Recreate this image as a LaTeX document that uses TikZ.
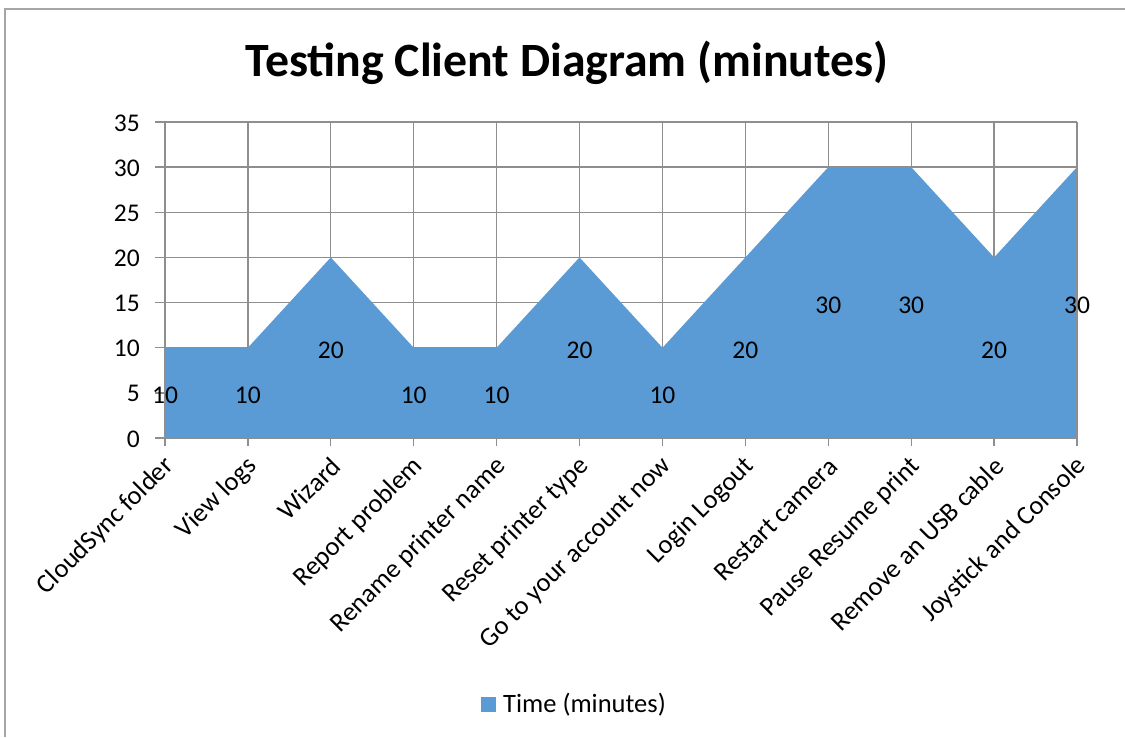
\documentclass[tikz,border=0pt]{standalone}
\usepackage{fontspec}
\setmainfont{Carlito}
\definecolor{areablue}{HTML}{5B9BD5}
\definecolor{gridgray}{HTML}{8E8E8E}
\definecolor{framegray}{HTML}{A6A6A6}
\begin{document}
\begin{tikzpicture}[x=1pt,y=-1pt,
  gridline/.style={draw=gridgray,line width=1.3pt},
  axisline/.style={draw=gridgray,line width=1.3pt},
  ticklabel/.style={font=\fontsize{25.5}{28}\selectfont,inner sep=0pt},
  catlabel/.style={font=\fontsize{26.5}{29}\selectfont,inner sep=0pt,anchor=east,rotate=45},
  datalabel/.style={font=\fontsize{25.5}{28}\selectfont,inner sep=0pt},
]
\useasboundingbox (0,0) rectangle (1125,737);
% outer frame
\draw[framegray,line width=1.5pt] (5,737) -- (5,9) -- (1125,9);
% title
\node[font=\fontsize{47.8}{52}\selectfont\bfseries,inner sep=0pt] (title) at (567,63) {Testing Client Diagram (minutes)};
% horizontal gridlines and y labels
\foreach \v [count=\i] in {0,5,...,35}{
  \pgfmathsetmacro{\yy}{438-\v*9.0286}
  \draw[gridline] (155,\yy) -- (1077,\yy);
  \node[ticklabel,anchor=east] (ylab\i) at (140,\yy+1) {\v};
}
% vertical gridlines
\foreach \k in {1,...,11}{
  \pgfmathsetmacro{\xx}{165+\k*82.909}
  \draw[gridline] (\xx,122) -- (\xx,446);
}
% data coordinates
\coordinate (p0) at (165,438);
\coordinate (p1) at (165,347.7);
\coordinate (p2) at (247.9,347.7);
\coordinate (p3) at (330.8,257.4);
\coordinate (p4) at (413.7,347.7);
\coordinate (p5) at (496.6,347.7);
\coordinate (p6) at (579.5,257.4);
\coordinate (p7) at (662.5,347.7);
\coordinate (p8) at (745.4,257.4);
\coordinate (p9) at (828.3,167.1);
\coordinate (p10) at (911.2,167.1);
\coordinate (p11) at (994.1,257.4);
\coordinate (p12) at (1077,167.1);
\coordinate (p13) at (1077,438);
\fill[areablue] (p0) -- (p1) -- (p2) -- (p3) -- (p4) -- (p5) -- (p6) -- (p7) -- (p8) -- (p9) -- (p10) -- (p11) -- (p12) -- (p13) -- cycle;
% axes / plot border
\draw[axisline] (165,122) -- (165,446);
\draw[axisline] (1077,122) -- (1077,446);
\draw[axisline] (155,438) -- (1077,438);
\draw[axisline] (155,122) -- (1077,122);
% data labels
\foreach \k/\v in {0/10,1/10,2/20,3/10,4/10,5/20,6/10,7/20,8/30,9/30,10/20,11/30}{
  \pgfmathsetmacro{\xx}{165+\k*82.909}
  \pgfmathsetmacro{\yy}{438-\v*4.5143+2.5}
  \node[datalabel] (dl\k) at (\xx,\yy) {\v};
}
% category labels
\foreach \k/\t in {0/CloudSync folder,1/View logs,2/Wizard,3/Report problem,4/Rename printer name,5/Reset printer type,6/Go to your account now,7/Login Logout,8/Restart camera,9/Pause Resume print,10/Remove an USB cable,11/Joystick and Console}{
  \pgfmathsetmacro{\xx}{165+\k*82.909+5}
  \node[catlabel] (cat\k) at (\xx,462) {\t};
}
% legend
\fill[areablue] (481,697) rectangle (496,712);
\node[font=\fontsize{26.5}{29}\selectfont,inner sep=0pt,anchor=west] (legend) at (503,705) {Time (minutes)};
\end{tikzpicture}
\end{document}
